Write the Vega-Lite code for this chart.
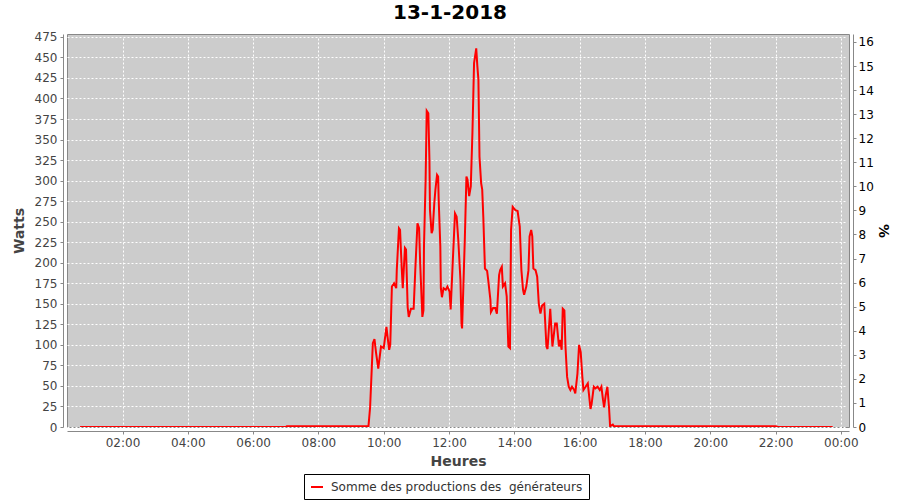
{
  "$schema": "https://vega.github.io/schema/vega-lite/v6.json",
  "width": 782,
  "height": 393,
  "autosize": {"type": "none"},
  "padding": {"left": 67, "top": 34, "right": 51, "bottom": 73},
  "background": "white",
  "title": {"text": "13-1-2018", "fontSize": 20, "font": "DejaVu Sans", "fontWeight": "bold", "color": "#000000", "anchor": "middle", "offset": 8, "dx": -8},
  "config": {
    "view": {"fill": "#cccccc", "stroke": "#888888"},
    "axis": {"labelFont": "DejaVu Sans", "labelFontSize": 12, "labelColor": "#444444", "titleFont": "DejaVu Sans", "titleFontSize": 14, "titleFontWeight": "bold", "titleColor": "#444444", "domainColor": "#888888", "tickColor": "#888888", "tickSize": 3, "gridColor": "#ffffff", "gridDash": [2, 2], "gridWidth": 1, "offset": 4}
  },
  "data": {"values": [
    {"t": "2018-01-13T00:42:00", "W": 0},
    {"t": "2018-01-13T03:00:00", "W": 0},
    {"t": "2018-01-13T05:00:00", "W": 0},
    {"t": "2018-01-13T07:00:00", "W": 0},
    {"t": "2018-01-13T07:02:00", "W": 1},
    {"t": "2018-01-13T08:00:00", "W": 1},
    {"t": "2018-01-13T09:00:00", "W": 1},
    {"t": "2018-01-13T09:32:00", "W": 1},
    {"t": "2018-01-13T09:35:00", "W": 24},
    {"t": "2018-01-13T09:40:00", "W": 102},
    {"t": "2018-01-13T09:43:00", "W": 107},
    {"t": "2018-01-13T09:46:00", "W": 90},
    {"t": "2018-01-13T09:50:00", "W": 71},
    {"t": "2018-01-13T09:55:00", "W": 98},
    {"t": "2018-01-13T10:00:00", "W": 96},
    {"t": "2018-01-13T10:05:00", "W": 122},
    {"t": "2018-01-13T10:07:00", "W": 110},
    {"t": "2018-01-13T10:10:00", "W": 94},
    {"t": "2018-01-13T10:12:00", "W": 100},
    {"t": "2018-01-13T10:15:00", "W": 171},
    {"t": "2018-01-13T10:19:00", "W": 175},
    {"t": "2018-01-13T10:23:00", "W": 169},
    {"t": "2018-01-13T10:24:00", "W": 191},
    {"t": "2018-01-13T10:28:00", "W": 242},
    {"t": "2018-01-13T10:30:00", "W": 240},
    {"t": "2018-01-13T10:33:00", "W": 195},
    {"t": "2018-01-13T10:35:00", "W": 169},
    {"t": "2018-01-13T10:39:00", "W": 218},
    {"t": "2018-01-13T10:41:00", "W": 216},
    {"t": "2018-01-13T10:44:00", "W": 146},
    {"t": "2018-01-13T10:46:00", "W": 134},
    {"t": "2018-01-13T10:50:00", "W": 144},
    {"t": "2018-01-13T10:55:00", "W": 144},
    {"t": "2018-01-13T10:58:00", "W": 191},
    {"t": "2018-01-13T11:02:00", "W": 248},
    {"t": "2018-01-13T11:05:00", "W": 242},
    {"t": "2018-01-13T11:07:00", "W": 199},
    {"t": "2018-01-13T11:11:00", "W": 134},
    {"t": "2018-01-13T11:13:00", "W": 142},
    {"t": "2018-01-13T11:14:00", "W": 220},
    {"t": "2018-01-13T11:17:00", "W": 301},
    {"t": "2018-01-13T11:19:00", "W": 385},
    {"t": "2018-01-13T11:22:00", "W": 382},
    {"t": "2018-01-13T11:24:00", "W": 325},
    {"t": "2018-01-13T11:25:00", "W": 264},
    {"t": "2018-01-13T11:28:00", "W": 236},
    {"t": "2018-01-13T11:30:00", "W": 240},
    {"t": "2018-01-13T11:33:00", "W": 273},
    {"t": "2018-01-13T11:35:00", "W": 289},
    {"t": "2018-01-13T11:38:00", "W": 307},
    {"t": "2018-01-13T11:40:00", "W": 305},
    {"t": "2018-01-13T11:41:00", "W": 277},
    {"t": "2018-01-13T11:44:00", "W": 220},
    {"t": "2018-01-13T11:45:00", "W": 169},
    {"t": "2018-01-13T11:47:00", "W": 158},
    {"t": "2018-01-13T11:50:00", "W": 169},
    {"t": "2018-01-13T11:54:00", "W": 167},
    {"t": "2018-01-13T11:57:00", "W": 171},
    {"t": "2018-01-13T12:01:00", "W": 165},
    {"t": "2018-01-13T12:03:00", "W": 143},
    {"t": "2018-01-13T12:07:00", "W": 203},
    {"t": "2018-01-13T12:11:00", "W": 260},
    {"t": "2018-01-13T12:14:00", "W": 256},
    {"t": "2018-01-13T12:17:00", "W": 228},
    {"t": "2018-01-13T12:21:00", "W": 179},
    {"t": "2018-01-13T12:23:00", "W": 125},
    {"t": "2018-01-13T12:24:00", "W": 120},
    {"t": "2018-01-13T12:29:00", "W": 228},
    {"t": "2018-01-13T12:32:00", "W": 305},
    {"t": "2018-01-13T12:34:00", "W": 301},
    {"t": "2018-01-13T12:37:00", "W": 281},
    {"t": "2018-01-13T12:40:00", "W": 293},
    {"t": "2018-01-13T12:43:00", "W": 358},
    {"t": "2018-01-13T12:44:00", "W": 386},
    {"t": "2018-01-13T12:46:00", "W": 443},
    {"t": "2018-01-13T12:50:00", "W": 461},
    {"t": "2018-01-13T12:52:00", "W": 440},
    {"t": "2018-01-13T12:54:00", "W": 423},
    {"t": "2018-01-13T12:56:00", "W": 329},
    {"t": "2018-01-13T12:59:00", "W": 297},
    {"t": "2018-01-13T13:01:00", "W": 289},
    {"t": "2018-01-13T13:03:00", "W": 256},
    {"t": "2018-01-13T13:06:00", "W": 193},
    {"t": "2018-01-13T13:10:00", "W": 190},
    {"t": "2018-01-13T13:12:00", "W": 179},
    {"t": "2018-01-13T13:16:00", "W": 155},
    {"t": "2018-01-13T13:17:00", "W": 140},
    {"t": "2018-01-13T13:21:00", "W": 145},
    {"t": "2018-01-13T13:25:00", "W": 145},
    {"t": "2018-01-13T13:28:00", "W": 138},
    {"t": "2018-01-13T13:32:00", "W": 185},
    {"t": "2018-01-13T13:34:00", "W": 191},
    {"t": "2018-01-13T13:37:00", "W": 195},
    {"t": "2018-01-13T13:39:00", "W": 171},
    {"t": "2018-01-13T13:43:00", "W": 175},
    {"t": "2018-01-13T13:46:00", "W": 159},
    {"t": "2018-01-13T13:49:00", "W": 98},
    {"t": "2018-01-13T13:52:00", "W": 96},
    {"t": "2018-01-13T13:54:00", "W": 240},
    {"t": "2018-01-13T13:57:00", "W": 268},
    {"t": "2018-01-13T14:02:00", "W": 264},
    {"t": "2018-01-13T14:06:00", "W": 263},
    {"t": "2018-01-13T14:10:00", "W": 244},
    {"t": "2018-01-13T14:13:00", "W": 191},
    {"t": "2018-01-13T14:16:00", "W": 167},
    {"t": "2018-01-13T14:18:00", "W": 161},
    {"t": "2018-01-13T14:22:00", "W": 171},
    {"t": "2018-01-13T14:26:00", "W": 191},
    {"t": "2018-01-13T14:28:00", "W": 232},
    {"t": "2018-01-13T14:31:00", "W": 240},
    {"t": "2018-01-13T14:33:00", "W": 232},
    {"t": "2018-01-13T14:35:00", "W": 193},
    {"t": "2018-01-13T14:39:00", "W": 191},
    {"t": "2018-01-13T14:42:00", "W": 183},
    {"t": "2018-01-13T14:45:00", "W": 150},
    {"t": "2018-01-13T14:48:00", "W": 138},
    {"t": "2018-01-13T14:51:00", "W": 148},
    {"t": "2018-01-13T14:55:00", "W": 150},
    {"t": "2018-01-13T14:59:00", "W": 98},
    {"t": "2018-01-13T15:01:00", "W": 95},
    {"t": "2018-01-13T15:06:00", "W": 144},
    {"t": "2018-01-13T15:10:00", "W": 98},
    {"t": "2018-01-13T15:15:00", "W": 126},
    {"t": "2018-01-13T15:18:00", "W": 126},
    {"t": "2018-01-13T15:22:00", "W": 98},
    {"t": "2018-01-13T15:24:00", "W": 106},
    {"t": "2018-01-13T15:27:00", "W": 94},
    {"t": "2018-01-13T15:29:00", "W": 144},
    {"t": "2018-01-13T15:32:00", "W": 142},
    {"t": "2018-01-13T15:34:00", "W": 98},
    {"t": "2018-01-13T15:37:00", "W": 61},
    {"t": "2018-01-13T15:40:00", "W": 49},
    {"t": "2018-01-13T15:43:00", "W": 45},
    {"t": "2018-01-13T15:46:00", "W": 49},
    {"t": "2018-01-13T15:50:00", "W": 45},
    {"t": "2018-01-13T15:52:00", "W": 41},
    {"t": "2018-01-13T15:56:00", "W": 65},
    {"t": "2018-01-13T15:59:00", "W": 100},
    {"t": "2018-01-13T16:02:00", "W": 91},
    {"t": "2018-01-13T16:05:00", "W": 61},
    {"t": "2018-01-13T16:07:00", "W": 45},
    {"t": "2018-01-13T16:11:00", "W": 49},
    {"t": "2018-01-13T16:15:00", "W": 53},
    {"t": "2018-01-13T16:17:00", "W": 41},
    {"t": "2018-01-13T16:20:00", "W": 22},
    {"t": "2018-01-13T16:22:00", "W": 28},
    {"t": "2018-01-13T16:26:00", "W": 49},
    {"t": "2018-01-13T16:29:00", "W": 47},
    {"t": "2018-01-13T16:33:00", "W": 49},
    {"t": "2018-01-13T16:37:00", "W": 45},
    {"t": "2018-01-13T16:40:00", "W": 49},
    {"t": "2018-01-13T16:43:00", "W": 33},
    {"t": "2018-01-13T16:45:00", "W": 24},
    {"t": "2018-01-13T16:48:00", "W": 39},
    {"t": "2018-01-13T16:51:00", "W": 49},
    {"t": "2018-01-13T16:54:00", "W": 24},
    {"t": "2018-01-13T16:56:00", "W": 1},
    {"t": "2018-01-13T17:01:00", "W": 3},
    {"t": "2018-01-13T17:03:00", "W": 1},
    {"t": "2018-01-13T18:00:00", "W": 1},
    {"t": "2018-01-13T20:00:00", "W": 1},
    {"t": "2018-01-13T22:00:00", "W": 1},
    {"t": "2018-01-13T22:05:00", "W": 0},
    {"t": "2018-01-13T23:00:00", "W": 0},
    {"t": "2018-01-13T23:45:00", "W": 0}
  ]},
  "layer": [
    {
      "mark": {"type": "line", "strokeWidth": 2, "clip": true},
      "encoding": {
        "x": {
          "field": "t", "type": "temporal",
          "scale": {"domain": [{"year": 2018, "month": 1, "date": 13, "hours": 0, "minutes": 18}, {"year": 2018, "month": 1, "date": 14, "hours": 0, "minutes": 15}]},
          "axis": {"title": "Heures", "format": "%H:%M", "values": [
            {"year": 2018, "month": 1, "date": 13, "hours": 2},
            {"year": 2018, "month": 1, "date": 13, "hours": 4},
            {"year": 2018, "month": 1, "date": 13, "hours": 6},
            {"year": 2018, "month": 1, "date": 13, "hours": 8},
            {"year": 2018, "month": 1, "date": 13, "hours": 10},
            {"year": 2018, "month": 1, "date": 13, "hours": 12},
            {"year": 2018, "month": 1, "date": 13, "hours": 14},
            {"year": 2018, "month": 1, "date": 13, "hours": 16},
            {"year": 2018, "month": 1, "date": 13, "hours": 18},
            {"year": 2018, "month": 1, "date": 13, "hours": 20},
            {"year": 2018, "month": 1, "date": 13, "hours": 22},
            {"year": 2018, "month": 1, "date": 14, "hours": 0}
          ], "labelPadding": 3, "titlePadding": 6}
        },
        "y": {"field": "W", "type": "quantitative", "scale": {"domain": [0, 478.5], "nice": false}, "axis": {"title": "Watts", "values": [0, 25, 50, 75, 100, 125, 150, 175, 200, 225, 250, 275, 300, 325, 350, 375, 400, 425, 450, 475], "titlePadding": 8, "labelPadding": 3}},
        "color": {"datum": "Somme des productions des \u00a0générateurs", "type": "nominal", "scale": {"range": ["#ff0000"]},
          "legend": {"title": null, "orient": "none", "legendX": 237, "legendY": 440, "strokeColor": "#000000", "padding": 6, "labelFont": "DejaVu Sans", "labelFontSize": 12, "labelColor": "#333333", "labelOffset": 7, "labelLimit": 500, "symbolType": "stroke", "symbolStrokeWidth": 2, "symbolSize": 144}}
      }
    },
    {
      "mark": {"type": "line", "opacity": 0, "clip": true},
      "encoding": {
        "x": {"field": "t", "type": "temporal"},
        "y": {"field": "W", "type": "quantitative", "scale": {"domain": [0, 16.33], "nice": false}, "axis": {"orient": "right", "title": "%", "values": [0, 1, 2, 3, 4, 5, 6, 7, 8, 9, 10, 11, 12, 13, 14, 15, 16], "grid": false, "labelColor": "#000000", "titleColor": "#000000", "titlePadding": 2}}
      }
    }
  ],
  "resolve": {"scale": {"y": "independent"}}
}
